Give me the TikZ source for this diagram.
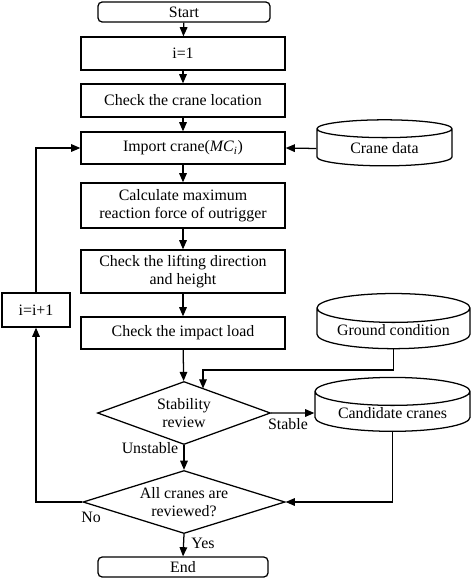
\documentclass[tikz,border=0pt]{standalone}
\usepackage{fontspec}
\setmainfont{Liberation Serif}
\usetikzlibrary{arrows.meta, shapes.geometric, calc}

\begin{document}
\begin{tikzpicture}[x=0.025cm, y=-0.025cm, >={Triangle[length=2.3mm, width=1.9mm]}, line width=0.9pt,%
  every node/.style={font=\fontsize{11.3}{13}\selectfont, inner sep=1pt},
  process/.style={draw, rectangle, minimum width=5.1cm, align=center},
  term/.style={draw, rectangle, rounded corners=3pt, minimum height=0.5cm},
  decision/.style={draw, diamond, inner sep=-1.5pt, align=center},
  store/.style={draw, cylinder, shape border rotate=90, aspect=0.25, align=center}
  ]
  \useasboundingbox (0,0) rectangle (472,579);
  % main column
  \node[term, minimum width=4.3cm] (start) at (184,12) {Start};
  \node[process, minimum height=0.825cm] (i1) at (183,53.5) {i=1};
  \node[process, minimum height=0.825cm] (loc) at (183,100.5) {Check the crane location};
  \node[process, minimum height=0.8cm] (imp) at (183,148) {Import crane(\textit{MC}\textsubscript{\textit{i}})};
  \node[process, minimum height=1.125cm] (calc) at (183,205.5) {Calculate maximum\\reaction force of outrigger};
  \node[process, minimum height=1.075cm] (lift) at (183,271.5) {Check the lifting direction\\and height};
  \node[process, minimum height=0.8cm] (load) at (183,333) {Check the impact load};
  \node[decision, aspect=2.75, minimum width=4.325cm, minimum height=1.575cm] (stab) at (184,413) {Stability\\review};
  \node[decision, aspect=3.2, minimum width=5.05cm, minimum height=1.575cm] (rev) at (184,502) {All cranes are\\reviewed?};
  \node[term, minimum width=4.25cm] (end) at (183,567) {End};
  % data stores
  \node[store, minimum width=3.375cm, minimum height=1.15cm] (crdata) at (384.5,148.5) {Crane data};
  \node[store, minimum width=3.825cm, minimum height=1.1cm] (ground) at (393.5,330) {Ground condition};
  \node[store, minimum width=3.875cm, minimum height=1.05cm] (cand) at (392.5,413) {Candidate cranes};
  % counter
  \node[draw, minimum width=1.7cm, minimum height=0.85cm] (inc) at (36,310) {i=i+1};
  % branch labels
  \node (lstable) at (288,424) {Stable};
  \node (lunstable) at (150,448) {Unstable};
  \node (lno) at (91,517) {No};
  \node (lyes) at (203,543) {Yes};
  \coordinate (gbend) at (203,370);
  \coordinate (gtip) at (203,388.5);

  \draw[->] (start) -- (i1);
  \draw[->] (i1) -- (loc);
  \draw[->] (loc) -- (imp);
  \draw[->] (imp) -- (calc);
  \draw[->] (calc) -- (lift);
  \draw[->] (lift) -- (load);
  \draw[->] (load) -- (stab);
  \draw[->] (crdata.west) -- (imp.east);
  \draw[->] (ground.south) |- (gbend) -- (gtip);
  \draw[->] (stab.east) -- (cand.west);
  \draw[->] (stab.south) -- (rev.north);
  \draw[->] (cand.south) |- (rev.east);
  \draw[->] (rev.west) -| (inc.south);
  \draw[->] (inc.north) |- (imp.west);
  \draw[->] (rev.south) -- (end.north);
\end{tikzpicture}
\end{document}
